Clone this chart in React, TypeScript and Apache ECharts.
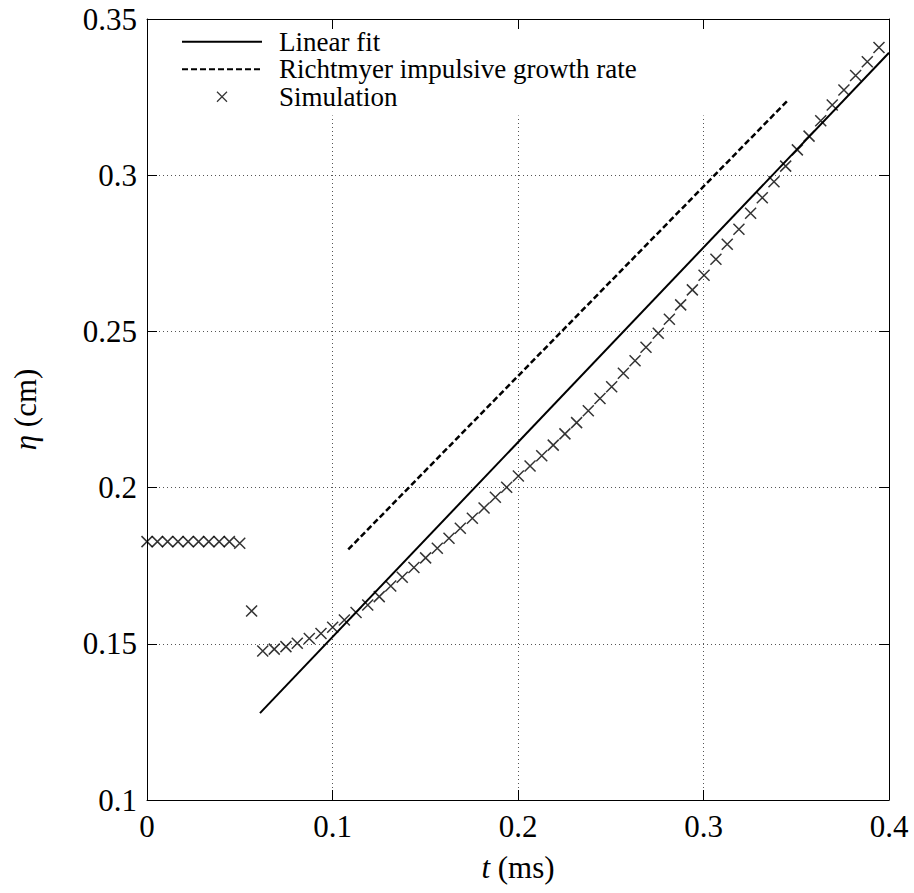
import React, { useEffect, useRef } from "react";
import * as echarts from "echarts";

// Simulation points (t in ms, eta in cm)
const simT = [
  0, 0.0056, 0.0111, 0.0167, 0.0222, 0.0278, 0.0333, 0.0389, 0.0444, 0.05,
  0.0564, 0.0624, 0.0686, 0.0749, 0.081, 0.0875, 0.0938, 0.1001, 0.1064, 0.1127, 0.119, 0.1252,
  0.1314, 0.1376, 0.1439, 0.1502, 0.1565, 0.1628, 0.1689, 0.1754, 0.1817, 0.1878, 0.1939,
  0.2002,
  0.2065, 0.2128, 0.219, 0.2253, 0.2316, 0.2379, 0.2442, 0.2505, 0.2568, 0.2631, 0.269,
  0.2756, 0.2816, 0.2877, 0.294, 0.3003, 0.3067, 0.3128, 0.3191, 0.3254, 0.3317, 0.338,
  0.3443, 0.3506, 0.3569, 0.3632, 0.3694, 0.3757, 0.382, 0.3883, 0.3946,
];
const simEta = [
  0.1827, 0.1827, 0.1827, 0.1827, 0.1827, 0.1827, 0.1827, 0.1827, 0.1827, 0.1822,
  0.1605, 0.1477, 0.1483, 0.1491, 0.1502, 0.1517, 0.1533, 0.1553, 0.1576, 0.16, 0.1624, 0.1651,
  0.1685, 0.1713, 0.1744, 0.1775, 0.1806, 0.1838, 0.187, 0.1902, 0.1935, 0.1969, 0.2001,
  0.2037,
  0.2069, 0.2102, 0.2136, 0.2172, 0.2208, 0.2246, 0.2285, 0.2323, 0.2366, 0.2406, 0.2449,
  0.2494, 0.2539, 0.2585, 0.2633, 0.268, 0.2731, 0.2779, 0.2827, 0.2878, 0.2928, 0.2979,
  0.3029, 0.3081, 0.3125, 0.3174, 0.3225, 0.3273, 0.3319, 0.3363, 0.3409,
];

// Linear fit end points
const fitT = [0.0609, 0.4];
const fitEta = [0.1278, 0.3392];

// Richtmyer impulsive growth rate end points
const rmT = [0.1085, 0.3452];
const rmEta = [0.1802, 0.3238];

const seriesNames = ["Linear fit", "Richtmyer impulsive growth rate", "Simulation"];

const FONT = "Liberation Serif";
const CROSS = "path://M0,0L10,10M10,0L0,10";
const HIDDEN = { color: "rgba(0,0,0,0)", borderColor: "rgba(0,0,0,0)", borderWidth: 0 };

const fmt = (v: number) => String(parseFloat(v.toFixed(3)));

export default function App() {
  const ref = useRef<HTMLDivElement>(null);
  useEffect(() => {
    if (!ref.current) return;
    const chart = echarts.init(ref.current, undefined, { renderer: "svg" });
    const zip = (a: number[], b: number[]) => a.map((x, i) => [x, b[i]]);
    const baseAxis = {
      type: "value" as const,
      axisLine: { show: true, onZero: false, lineStyle: { color: "#000", width: 1 } },
      axisTick: { show: true, inside: true, length: 10, lineStyle: { color: "#000", width: 1 } },
    };
    const nameStyle = {
      color: "#000",
      fontFamily: FONT,
      fontSize: 31,
      rich: { i: { fontStyle: "italic", fontFamily: FONT, fontSize: 31, color: "#000" } },
    };
    chart.setOption({
      animation: false,
      backgroundColor: "#fff",
      textStyle: { fontFamily: FONT },
      grid: { left: 147, right: 25, top: 19, bottom: 93, containLabel: false, outerBoundsMode: "none" },
      legend: {
        orient: "vertical",
        left: 148,
        top: 20,
        padding: [8, 74, 5, 33],
        backgroundColor: "#fff",
        itemWidth: 80,
        itemHeight: 10,
        itemGap: 0,
        data: [
          { name: seriesNames[0], itemStyle: HIDDEN },
          { name: seriesNames[1], itemStyle: HIDDEN },
          { name: seriesNames[2], icon: CROSS, itemStyle: { color: "none", borderColor: "#000", borderWidth: 1.2 } },
        ],
        textStyle: { fontFamily: FONT, fontSize: 27, lineHeight: 27.5, color: "#000", padding: [0, 0, 0, 12] },
      },
      xAxis: [
        {
          ...baseAxis,
          min: 0,
          max: 0.4,
          interval: 0.1,
          position: "bottom",
          axisLabel: { color: "#000", fontFamily: FONT, fontSize: 31, margin: 11, formatter: fmt },
          splitLine: { show: true, lineStyle: { type: [1, 3], color: "#555", width: 1 } },
          name: "{i|t} (ms)",
          nameLocation: "middle",
          nameGap: 52,
          nameTextStyle: nameStyle,
        },
        {
          ...baseAxis,
          min: 0,
          max: 0.4,
          interval: 0.1,
          position: "top",
          z: 6,
          axisLabel: { show: false },
          splitLine: { show: false },
        },
      ],
      yAxis: [
        {
          ...baseAxis,
          min: 0.1,
          max: 0.35,
          interval: 0.05,
          position: "left",
          axisLabel: { color: "#000", fontFamily: FONT, fontSize: 31, margin: 10, formatter: fmt },
          splitLine: { show: true, lineStyle: { type: [1, 3], color: "#555", width: 1 } },
          name: "{i|η} (cm)",
          nameLocation: "middle",
          nameGap: 106,
          nameRotate: 90,
          nameTextStyle: nameStyle,
        },
        {
          ...baseAxis,
          min: 0.1,
          max: 0.35,
          interval: 0.05,
          position: "right",
          z: 6,
          axisLabel: { show: false },
          splitLine: { show: false },
        },
      ],
      series: [
        {
          name: seriesNames[0],
          type: "line",
          symbol: "none",
          data: zip(fitT, fitEta),
          lineStyle: { color: "#000", width: 2 },
          itemStyle: { color: "#000" },
          z: 3,
        },
        {
          name: seriesNames[1],
          type: "line",
          symbol: "none",
          data: zip(rmT, rmEta),
          lineStyle: { color: "#000", width: 2.5, type: [6, 3] },
          itemStyle: { color: "#000" },
          z: 3,
        },
        {
          name: seriesNames[2],
          type: "scatter",
          symbol: CROSS,
          symbolSize: 11,
          data: zip(simT, simEta),
          itemStyle: { color: "none", borderColor: "#000", borderWidth: 1.5 },
          z: 2,
        },
      ],
    });
    return () => chart.dispose();
  }, []);
  return <div ref={ref} style={{ position: "absolute", left: 0, top: 0, width: 914, height: 893 }} />;
}
